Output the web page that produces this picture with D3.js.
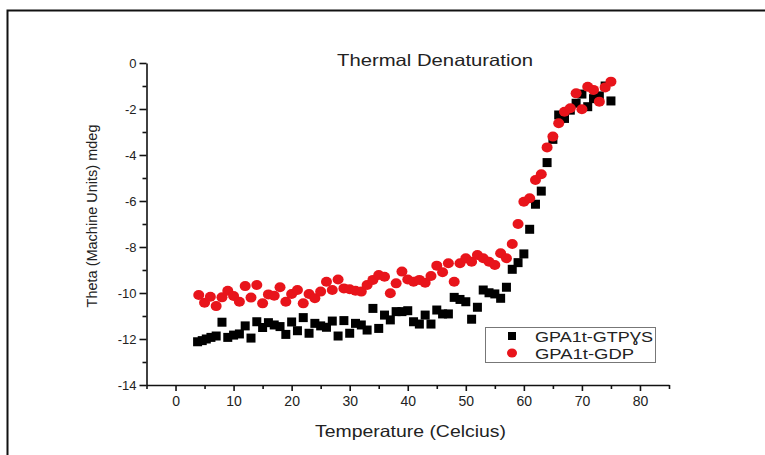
<!DOCTYPE html>
<html>
<head>
<meta charset="utf-8">
<script src="https://cdn.jsdelivr.net/npm/d3@7"></script>
<style>
  html, body { margin: 0; padding: 0; background: #fff; }
  svg { display: block; }
  text { font-family: "Liberation Sans", Arial, sans-serif; fill: #222; }
</style>
</head>
<body>
<svg id="chart" width="765" height="455"></svg>
<script>
// Temperatures (°C) of the GTPγS readings: a few closely spaced at the start, then 1 °C steps
const gtpTemps = [3.8, 4.6, 5.3, 6.1].concat(d3.range(7, 76));

// Ellipticity readings, GPA1t-GTPγS
const gtpValues = [
  -12.12, -12.07, -12.00, -11.93, -11.87, -11.27, -11.93, -11.83, -11.78, -11.43,
  -11.96, -11.25, -11.50, -11.29, -11.39, -11.46, -11.80, -11.26, -11.64, -11.07,
  -11.75, -11.32, -11.43, -11.49, -11.22, -11.87, -11.20, -11.75, -11.32, -11.39,
  -11.61, -10.67, -11.54, -10.96, -11.17, -10.81, -10.81, -10.77, -11.25, -11.35,
  -10.96, -11.35, -10.74, -10.91, -10.91, -10.19, -10.28, -10.38, -11.14, -10.62,
  -9.87, -9.99, -10.04, -10.23, -9.75, -8.97, -8.68, -8.30, -7.23, -6.14,
  -5.57, -4.33, -3.32, -2.26, -2.41, -2.05, -1.75, -1.35, -1.90, -1.55,
  -1.43, -1.00, -1.65
];

// Temperatures (°C) of the GDP readings, 1 °C steps
const gdpTemps = d3.range(4, 76);

// Ellipticity readings, GPA1t-GDP
const gdpValues = [
  -10.09, -10.42, -10.16, -10.57, -10.19, -9.90, -10.13, -10.38, -9.70, -10.20,
  -9.65, -10.45, -10.06, -10.12, -9.75, -10.38, -10.04, -9.87, -10.45, -10.04,
  -10.23, -9.94, -9.51, -9.87, -9.41, -9.80, -9.84, -9.90, -9.94, -9.65,
  -9.43, -9.22, -9.29, -10.01, -9.58, -9.07, -9.41, -9.51, -9.43, -9.55,
  -9.26, -8.81, -9.10, -8.71, -9.51, -8.71, -8.49, -8.64, -8.35, -8.49,
  -8.64, -8.78, -8.27, -8.49, -7.87, -7.00, -6.03, -5.88, -5.09, -4.84,
  -3.67, -3.20, -2.62, -2.12, -1.97, -1.32, -2.01, -1.03, -1.17, -1.68,
  -1.06, -0.81
];

const xTicks = [0, 10, 20, 30, 40, 50, 60, 70, 80];
const yTicks = [0, -2, -4, -6, -8, -10, -12, -14];

const series = [
  { name: "GPA1t-GTP\u0194S", temps: gtpTemps, values: gtpValues, color: "#000000", shape: "square" },
  { name: "GPA1t-GDP", temps: gdpTemps, values: gdpValues, color: "#e8141b", shape: "circle" }
];

const svg = d3.select("#chart");

// outer frame
svg.append("rect")
  .attr("x", 7.5).attr("y", 10.5)
  .attr("width", 780).attr("height", 470)
  .attr("fill", "none").attr("stroke", "#111").attr("stroke-width", 2);

const x = d3.scaleLinear().domain([-5, 85]).range([146.5, 669]);
const y = d3.scaleLinear().domain([-14, 0]).range([385, 63]);

const plain = d => String(d);

// x axis: major ticks every 10, minor every 5
const xAxisG = svg.append("g").attr("transform", `translate(0,${y(-14)})`);
xAxisG.call(d3.axisBottom(x).tickValues(xTicks).tickSize(6).tickSizeOuter(0).tickPadding(5).tickFormat(plain));
xAxisG.append("g").call(d3.axisBottom(x).tickValues(d3.range(-5, 90, 10)).tickSize(4).tickFormat(""))
  .select(".domain").remove();

// y axis: major ticks every 2, minor every 1
const yAxisG = svg.append("g").attr("transform", `translate(${x(-5)},0)`);
yAxisG.call(d3.axisLeft(y).tickValues(yTicks).tickSize(7).tickSizeOuter(0).tickPadding(3).tickFormat(plain));
yAxisG.append("g").call(d3.axisLeft(y).tickValues(d3.range(-13, 0, 2)).tickSize(4).tickFormat(""))
  .select(".domain").remove();

svg.selectAll(".domain").attr("stroke", "#111").attr("stroke-width", 1.6);
svg.selectAll(".tick line").attr("stroke", "#111").attr("stroke-width", 1.6);
svg.selectAll(".tick text").style("font-family", "'Liberation Sans', Arial, sans-serif").attr("fill", "#222");
xAxisG.selectAll(".tick text").style("font-size", "14px");
yAxisG.selectAll(".tick text").style("font-size", "13px");

// data marks
const layers = series.map(s => {
  const pts = s.temps.map((t, i) => ({ t, v: s.values[i] }));
  const g = svg.append("g");
  if (s.shape === "square") {
    g.selectAll("rect").data(pts).join("rect")
      .attr("x", d => x(d.t) - 4.5).attr("y", d => y(d.v) - 4.5)
      .attr("width", 9).attr("height", 9)
      .attr("fill", s.color);
  } else {
    g.selectAll("ellipse").data(pts).join("ellipse")
      .attr("cx", d => x(d.t)).attr("cy", d => y(d.v))
      .attr("rx", 5.5).attr("ry", 5)
      .attr("fill", s.color);
  }
  return g;
});

// title
svg.append("text")
  .attr("x", 337).attr("y", 66)
  .attr("textLength", 196).attr("lengthAdjust", "spacingAndGlyphs")
  .style("font-size", "16.5px")
  .text("Thermal Denaturation");

// axis titles
svg.append("text")
  .attr("x", 315).attr("y", 437)
  .attr("textLength", 191).attr("lengthAdjust", "spacingAndGlyphs")
  .style("font-size", "16.5px")
  .text("Temperature (Celcius)");

svg.append("text")
  .attr("transform", `translate(97,216) rotate(-90)`)
  .attr("text-anchor", "middle")
  .style("font-size", "14.5px")
  .text("Theta (Machine Units) mdeg");

// legend
const lg = svg.append("g");
lg.append("rect")
  .attr("x", 485.5).attr("y", 327.5).attr("width", 170).attr("height", 35)
  .attr("fill", "#fff").attr("stroke", "#777").attr("stroke-width", 1);
series.forEach((s, i) => {
  const cy = 336 + i * 17;
  if (s.shape === "square") {
    lg.append("rect").attr("x", 508).attr("y", cy - 4).attr("width", 8).attr("height", 8).attr("fill", s.color);
  } else {
    lg.append("ellipse").attr("cx", 512).attr("cy", cy).attr("rx", 5).attr("ry", 4.5).attr("fill", s.color);
  }
  lg.append("text").attr("x", 535).attr("y", cy + 5.5)
    .attr("textLength", i === 0 ? 118 : 99).attr("lengthAdjust", "spacingAndGlyphs")
    .style("font-size", "15.5px").text(s.name);
});
</script>
</body>
</html>
